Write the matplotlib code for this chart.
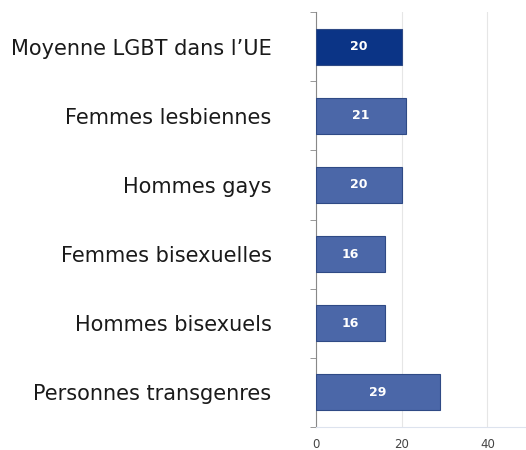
import matplotlib.pyplot as plt
import numpy as np

# Data
categories = [
    "Moyenne LGBT dans l\u2019UE",
    "Femmes lesbiennes",
    "Hommes gays",
    "Femmes bisexuelles",
    "Hommes bisexuels",
    "Personnes transgenres",
]
values = [20, 21, 20, 16, 16, 29]
x_ticks = [0, 20, 40]

plt.rcParams['font.family'] = ['DejaVu Sans']

fig = plt.figure(figsize=(5.26, 4.5), dpi=100)
ax = fig.add_axes([316 / 526, 23 / 450, 210 / 526, 415 / 450])

y = np.arange(len(categories))
colors = ["#0b3486"] + ["#4b67a8"] * (len(categories) - 1)
bars = ax.barh(y, values, height=0.52, color=colors, edgecolor="#2f4a85", linewidth=0.8, zorder=3)

for b, v in zip(bars, values):
    ax.text(b.get_width() / 2, b.get_y() + b.get_height() / 2, str(v),
            ha="center", va="center", color="white", fontsize=9,
            fontweight="bold", zorder=4)

ax.set_ylim(len(categories) - 0.5, -0.5)
ax.set_xlim(0, 49)
ax.set_yticks(y)
ax.set_yticklabels(categories, fontsize=15, color="#1a1a1a")
ax.tick_params(axis="y", length=0, pad=32)
ax.set_yticks(np.arange(-0.5, len(categories), 1), minor=True)
ax.tick_params(axis="y", which="minor", length=4, color="#888888")

ax.set_xticks(x_ticks)
ax.tick_params(axis="x", length=0, labelsize=8.5, labelcolor="#444444", pad=8)
ax.grid(axis="x", color="#e6e6e6", linewidth=0.8, zorder=0)

for s in ["top", "right"]:
    ax.spines[s].set_visible(False)
ax.spines["left"].set_color("#888888")
ax.spines["bottom"].set_color("#dde3ee")

fig.savefig("out.png", dpi=100)
